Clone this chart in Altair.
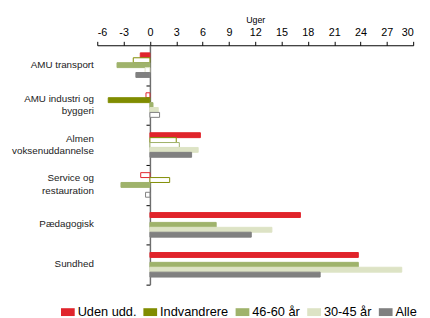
import altair as alt
import pandas as pd

categories = ["AMU transport", "AMU industri og|byggeri", "Almen|voksenuddannelse",
              "Service og|restauration", "Pædagogisk", "Sundhed"]
series = ["Uden udd.", "Indvandrere", "46-60 år", "30-45 år", "Alle"]
colors = ["#e0242b", "#808c00", "#9fb36b", "#dde3c5", "#808080"]

uden = [-1.1, -0.45, 5.75, -1.05, 17.15, 23.75]
indv = [-1.9, -4.75, 3.0, 2.25, None, None]
a4660 = [-3.75, 0.35, 3.35, -3.3, 7.55, 23.75]
a3045 = [-0.55, 0.95, 5.5, None, 13.9, 28.7]
alle = [-1.6, 1.1, 4.75, -0.5, 11.55, 19.4]

# outlined (hollow) bars
uden_ns = [False, True, False, True, False, False]
indv_ns = [True, False, True, True, False, False]
a4660_ns = [False, False, True, False, False, False]
a3045_ns = [True, False, False, False, False, False]
alle_ns = [False, True, False, True, False, False]

vals = [uden, indv, a4660, a3045, alle]
nss = [uden_ns, indv_ns, a4660_ns, a3045_ns, alle_ns]
rows = []
for s, v, n in zip(series, vals, nss):
    for c, x, f in zip(categories, v, n):
        if x is not None:
            rows.append({"cat": c, "series": s, "value": x, "ns": f})
df = pd.DataFrame(rows)

W, H = 322, 244
zero_px = 6 / 36 * W
half_step = H / len(categories) / 2

chart = alt.Chart(df).mark_bar(strokeWidth=1).encode(
    x=alt.X("value:Q",
            scale=alt.Scale(domain=[-6, 30], nice=False, zero=False),
            axis=alt.Axis(orient="top", values=list(range(-6, 31, 3)), title="Uger",
                          labelExpr="datum.value < 0 ? '-' + (-datum.value) : '' + datum.value",
                          grid=False, domainColor="#000", domainWidth=1,
                          tickColor="#000", tickSize=4, labelPadding=4,
                          labelFontSize=11, labelColor="#000", labelFont="Liberation Sans",
                          titleFont="Liberation Sans", titleFontSize=9, titleFontWeight="normal",
                          titleColor="#000", titlePadding=2)),
    y=alt.Y("cat:N", sort=categories,
            scale=alt.Scale(paddingInner=0.385, paddingOuter=0.19),
            axis=alt.Axis(title=None, offset=-zero_px, domainColor="#6e6e6e", domainWidth=1.5,
                          tickColor="#000", tickSize=4, tickOffset=half_step,
                          labelOffset={"condition": {"test": "indexof(datum.value, '|') >= 0",
                                                     "value": -half_step - 7},
                                       "value": -half_step - 1},
                          labelPadding=zero_px, labelAlign="right", labelFontSize=10,
                          labelFont="Liberation Sans", labelColor="#222",
                          labelExpr="split(datum.label, '|')", labelLineHeight=13,
                          labelOverlap=False, labelBound=False)),
    yOffset=alt.YOffset("series:N", sort=series,
                        scale=alt.Scale(domain=series, paddingInner=0, paddingOuter=0)),
    fill=alt.condition("datum.ns", alt.value("white"),
                       alt.Fill("series:N", scale=alt.Scale(domain=series, range=colors),
                                legend=alt.Legend(orient="none", direction="horizontal",
                                                  legendX=-37, legendY=265, title=None,
                                                  labelFontSize=13, labelFont="Liberation Sans",
                                                  labelColor="#000",
                                                  symbolType="M-1,-0.57H1V0.57H-1Z",
                                                  symbolSize=196, symbolStrokeWidth=0,
                                                  labelOffset=3, columnPadding=7,
                                                  padding=0))),
    stroke=alt.Stroke("series:N", scale=alt.Scale(domain=series, range=colors), legend=None),
).properties(
    width=W, height=H, autosize="none",
    padding={"left": 91, "top": 35, "right": 9, "bottom": 31},
).configure_view(stroke=None)

chart.save("out.html", embed_options={"renderer": "svg", "actions": False})
